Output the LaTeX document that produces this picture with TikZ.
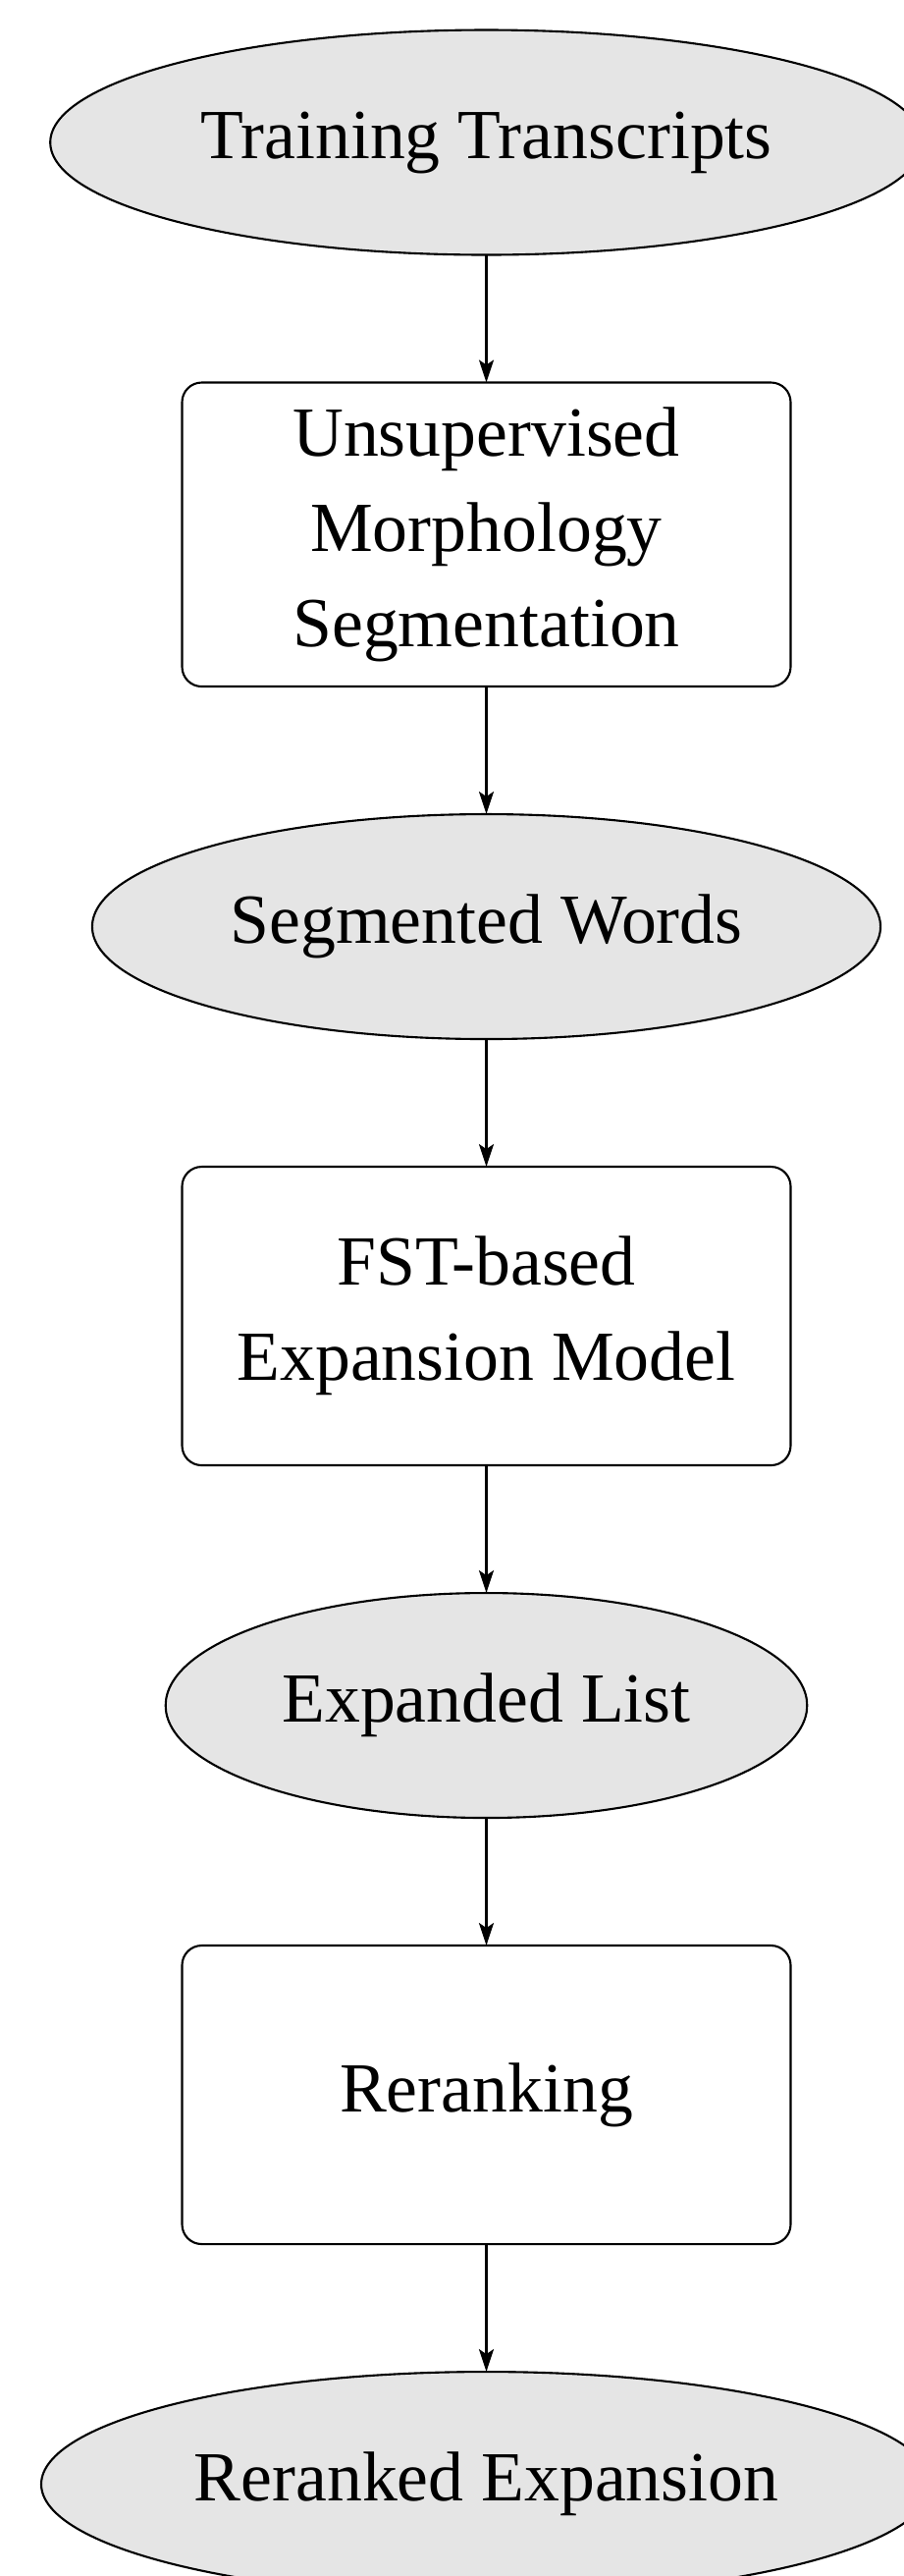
\documentclass[tikz,border=0pt]{standalone}
\usepackage{fontspec}
\setmainfont{Liberation Serif}
\usetikzlibrary{positioning,shapes.geometric,arrows.meta}
\begin{document}
\begin{tikzpicture}[
    data/.style={ellipse, draw, fill=black!10, inner xsep=0.23cm, minimum height=2.29cm},
    proc/.style={rectangle, draw, rounded corners=0.2cm, align=center, minimum width=6.2cm, minimum height=3.04cm, inner ysep=0.255cm},
    every node/.style={font=\fontsize{20.4}{27.5}\selectfont, line width=0.6pt, outer sep=0pt},
    flow/.style={-{Stealth[length=0.23cm,width=0.15cm,inset=0.05cm]}, line width=0.6pt},
    node distance=1.3cm
]
    \useasboundingbox (0,0) rectangle (9.21,-26.23);
    \node [data] (train) at (4.955,-1.45) {Training Transcripts};
    \node [proc, below=of train] (morph) {Unsupervised\\Morphology\\Segmentation};
    \node [data, below=of morph] (segwords) {Segmented Words};
    \node [proc, below=of segwords] (fst) {FST-based\\Expansion Model};
    \node [data, below=of fst] (explist) {Expanded List};
    \node [proc, below=of explist] (rerank) {Reranking};
    \node [data, below=of rerank] (result) {Reranked Expansion};
    \draw [flow] (train)--(morph);
    \draw [flow] (morph)--(segwords);
    \draw [flow] (segwords)--(fst);
    \draw [flow] (fst)--(explist);
    \draw [flow] (explist)--(rerank);
    \draw [flow] (rerank)--(result);
\end{tikzpicture}
\end{document}
